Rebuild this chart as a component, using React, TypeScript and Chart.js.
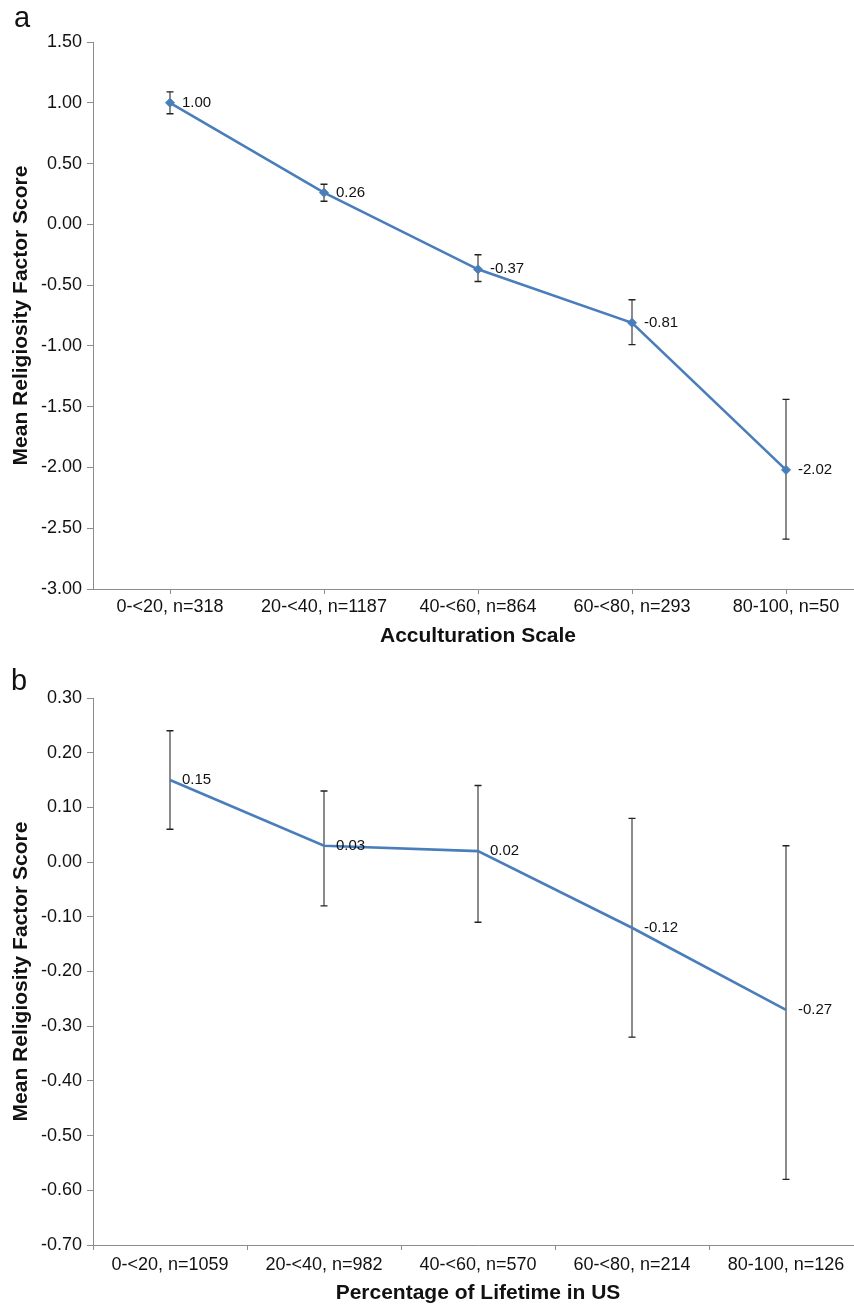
import React, { useEffect, useRef } from "react";
import { Chart, registerables } from "chart.js";

Chart.register(...registerables);

const categoriesA = ["0-<20, n=318", "20-<40, n=1187", "40-<60, n=864", "60-<80, n=293", "80-100, n=50"];
const meansA = [1.0, 0.26, -0.37, -0.81, -2.02];
const lowerA = [0.91, 0.19, -0.47, -0.99, -2.59];
const upperA = [1.09, 0.33, -0.25, -0.62, -1.44];
const yTicksA = { min: -3, max: 1.5, step: 0.5 };

const categoriesB = ["0-<20, n=1059", "20-<40, n=982", "40-<60, n=570", "60-<80, n=214", "80-100, n=126"];
const meansB = [0.15, 0.03, 0.02, -0.12, -0.27];
const lowerB = [0.06, -0.08, -0.11, -0.32, -0.58];
const upperB = [0.24, 0.13, 0.14, 0.08, 0.03];
const yTicksB = { min: -0.7, max: 0.3, step: 0.1 };

const yTitle = "Mean Religiosity Factor Score";
const xTitleA = "Acculturation Scale";
const xTitleB = "Percentage of Lifetime in US";

const FONT = "'Liberation Sans', Arial, Helvetica, sans-serif";
const BLUE = "#4A7EBB";
const AXIS = "#8c8c8c";

const CANVAS_W = 870;

type PanelProps = {
  labels: string[];
  means: number[];
  lower: number[];
  upper: number[];
  yr: { min: number; max: number; step: number };
  xTitle: string;
  height: number;
  top: number;
  bottomArea: number;
  markers: boolean;
  gridOffset: boolean;
  tickPad: number;
  titlePadBottom: number;
};

function fmt(v: number) {
  if (Math.abs(v) < 1e-9) return "0.00";
  return v.toFixed(2);
}

function Panel(p: PanelProps) {
  const ref = useRef<HTMLCanvasElement | null>(null);
  useEffect(() => {
    if (!ref.current) return;
    const errPlugin = {
      id: "errbars",
      beforeDatasetsDraw(chart: any) {
        const ctx = chart.ctx;
        const y = chart.scales.y;
        const meta = chart.getDatasetMeta(0);
        ctx.save();
        meta.data.forEach((pt: any, i: number) => {
          const x = pt.x;
          const yl = y.getPixelForValue(p.lower[i]);
          const yu = y.getPixelForValue(p.upper[i]);
          ctx.strokeStyle = "#5a5a5a";
          ctx.lineWidth = 1.4;
          ctx.beginPath();
          ctx.moveTo(x, yu);
          ctx.lineTo(x, yl);
          ctx.stroke();
          ctx.strokeStyle = "#222";
          ctx.lineWidth = 1.4;
          ctx.beginPath();
          ctx.moveTo(x - 3.5, yu);
          ctx.lineTo(x + 3.5, yu);
          ctx.moveTo(x - 3.5, yl);
          ctx.lineTo(x + 3.5, yl);
          ctx.stroke();
        });
        ctx.restore();
      },
      afterDatasetsDraw(chart: any) {
        const ctx = chart.ctx;
        const meta = chart.getDatasetMeta(0);
        ctx.save();
        ctx.font = `15px ${FONT}`;
        ctx.fillStyle = "#111";
        ctx.textAlign = "left";
        ctx.textBaseline = "middle";
        meta.data.forEach((pt: any, i: number) => {
          ctx.fillText(fmt(p.means[i]), pt.x + 12, pt.y);
        });
        ctx.restore();
      },
    };
    const chart = new Chart(ref.current, {
      type: "line",
      data: {
        labels: p.labels,
        datasets: [
          {
            data: p.means,
            borderColor: BLUE,
            backgroundColor: BLUE,
            borderWidth: 2.6,
            tension: 0,
            pointStyle: "rectRot",
            pointRadius: p.markers ? 4.5 : 0,
            pointBorderWidth: 1,
            pointBorderColor: BLUE,
            pointBackgroundColor: BLUE,
          },
        ],
      },
      options: {
        responsive: false,
        animation: false,
        layout: { padding: { top: p.top, left: 0, right: CANVAS_W - 863, bottom: 0 } },
        plugins: { legend: { display: false }, tooltip: { enabled: false } },
        scales: {
          x: {
            type: "category",
            offset: true,
            grid: {
              display: true,
              drawOnChartArea: false,
              drawTicks: true,
              tickLength: 5,
              color: AXIS,
              offset: p.gridOffset,
            },
            border: { display: true, color: AXIS, width: 1 },
            ticks: { color: "#111", font: { family: FONT, size: 18 }, padding: p.tickPad, maxRotation: 0, autoSkip: false },
            title: {
              display: true,
              text: p.xTitle,
              color: "#111",
              font: { family: FONT, size: 21, weight: "bold" },
              padding: { top: 0, bottom: p.titlePadBottom },
            },
            afterFit: (s: any) => {
              s.height = p.height - p.bottomArea;
            },
          },
          y: {
            min: p.yr.min,
            max: p.yr.max,
            grid: { display: true, drawOnChartArea: false, drawTicks: true, tickLength: 6, color: AXIS },
            border: { display: true, color: AXIS, width: 1 },
            ticks: {
              stepSize: p.yr.step,
              color: "#111",
              font: { family: FONT, size: 18 },
              padding: 5,
              callback: (v: any) => fmt(Number(v)),
            },
            title: {
              display: true,
              text: yTitle,
              color: "#111",
              font: { family: FONT, size: 21, weight: "bold" },
              padding: { top: 8.5, bottom: 0 },
            },
            afterFit: (s: any) => {
              s.width = 93;
            },
          },
        },
      },
      plugins: [errPlugin],
    } as any);
    return () => chart.destroy();
  }, []);
  return <canvas ref={ref} width={CANVAS_W} height={p.height} style={{ display: "block", width: CANVAS_W, height: p.height }} />;
}

export default function App() {
  const letter: React.CSSProperties = {
    position: "absolute",
    fontFamily: FONT,
    fontSize: 29,
    lineHeight: 1,
    color: "#111",
    margin: 0,
  };
  return (
    <div style={{ position: "absolute", left: 0, top: 0, width: 854, height: 1305, overflow: "hidden", background: "#fff" }}>
      <div style={{ position: "absolute", left: 0, top: 0 }}>
        <Panel
          labels={categoriesA}
          means={meansA}
          lower={lowerA}
          upper={upperA}
          yr={yTicksA}
          xTitle={xTitleA}
          height={650}
          top={42}
          bottomArea={589}
          markers={true}
          gridOffset={false}
          tickPad={2}
          titlePadBottom={1}
        />
      </div>
      <div style={{ position: "absolute", left: 0, top: 650 }}>
        <Panel
          labels={categoriesB}
          means={meansB}
          lower={lowerB}
          upper={upperB}
          yr={yTicksB}
          xTitle={xTitleB}
          height={655}
          top={48}
          bottomArea={595}
          markers={false}
          gridOffset={true}
          tickPad={4}
          titlePadBottom={-1}
        />
      </div>
      <div style={{ ...letter, left: 14, top: 2.5 }}>a</div>
      <div style={{ ...letter, left: 11, top: 665.5 }}>b</div>
    </div>
  );
}
